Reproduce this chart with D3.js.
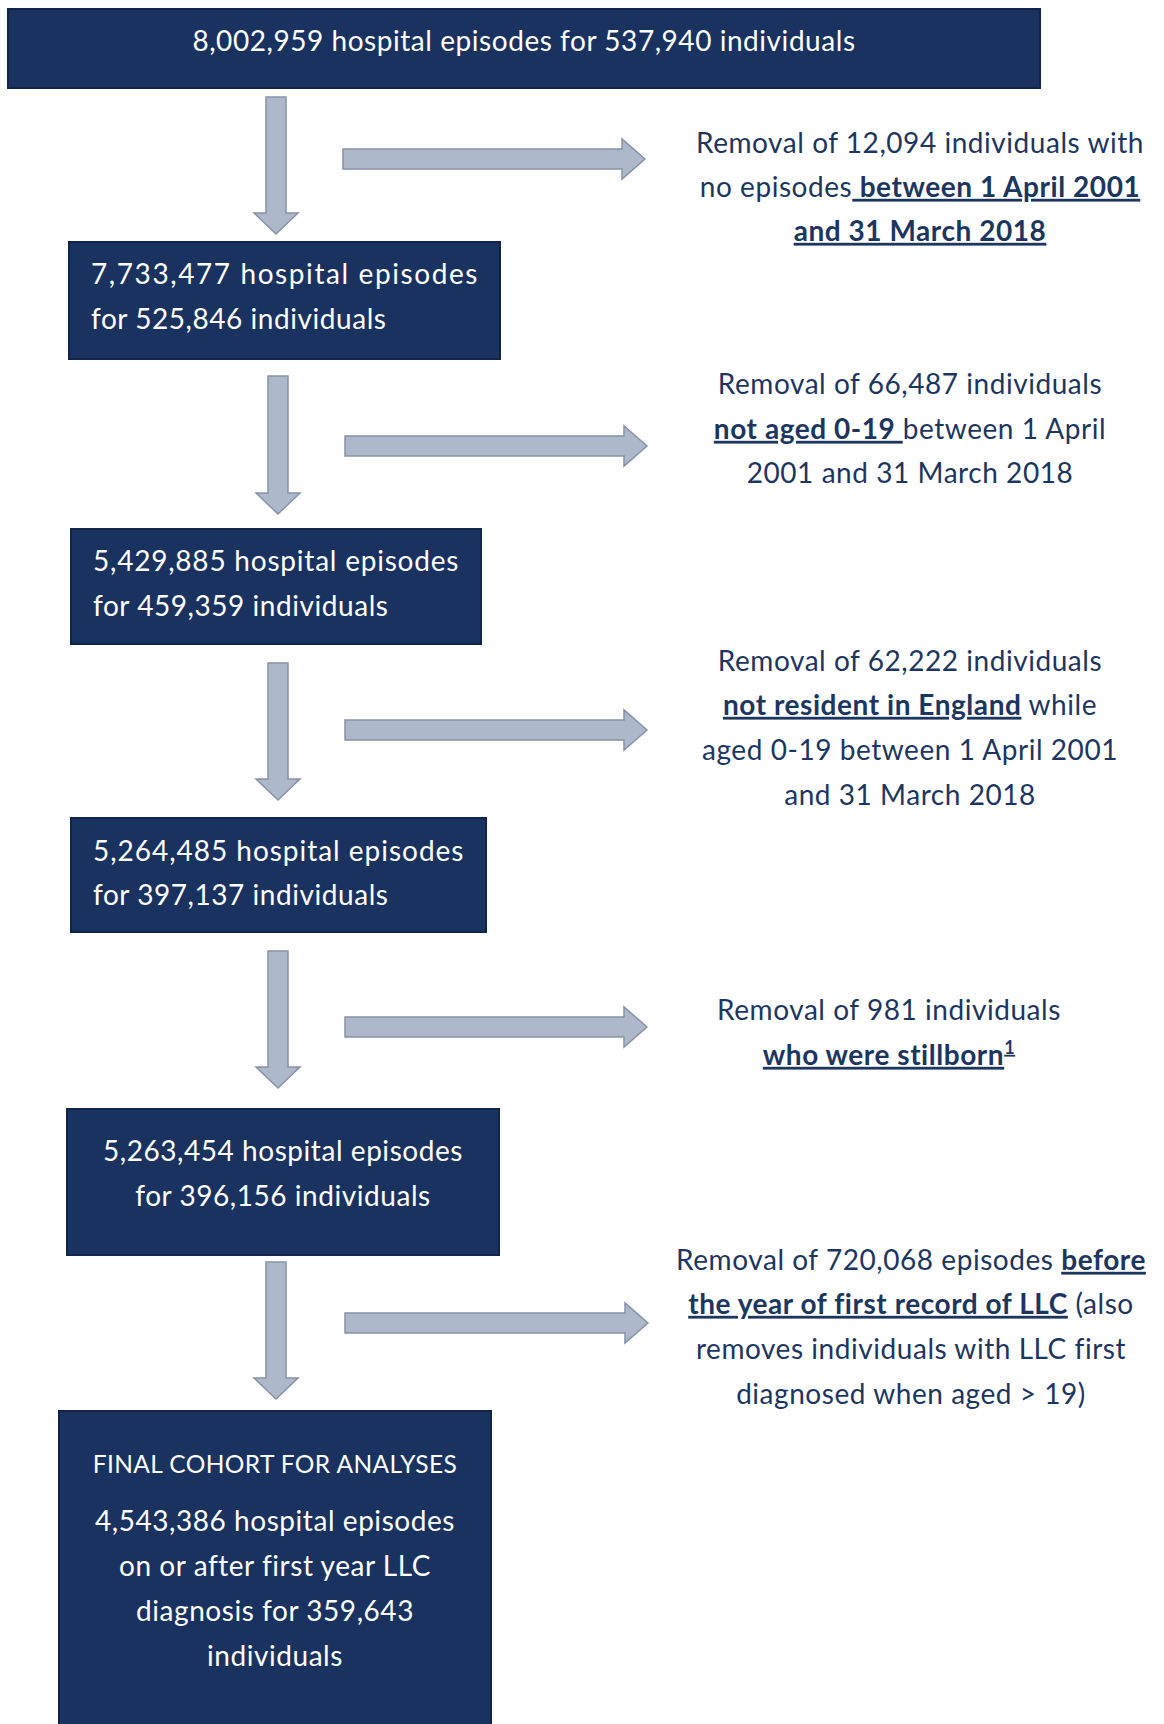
<!DOCTYPE html>
<html>
<head>
<meta charset="utf-8">
<script src="https://cdn.jsdelivr.net/npm/d3@7"></script>
<style>
    body { margin: 0; background: #fff; }
    svg text { font-family: Lato, "Open Sans", sans-serif; }
</style>
</head>
<body>
<svg id="flow"></svg>
<script>
const WIDTH = 1164;
const HEIGHT = 1724;

// Counts at each stage of the cohort
const stageEpisodes = ['8,002,959', '7,733,477', '5,429,885', '5,264,485', '5,263,454', '4,543,386'];
const stageIndividuals = ['537,940', '525,846', '459,359', '397,137', '396,156', '359,643'];
const finalTitle = 'FINAL COHORT FOR ANALYSES';

// Text of the boxes, built from the counts
const boxLines = [
    [`${stageEpisodes[0]} hospital episodes for ${stageIndividuals[0]} individuals`],
    [`${stageEpisodes[1]}  hospital  episodes`, `for ${stageIndividuals[1]} individuals`],
    [`${stageEpisodes[2]} hospital episodes`, `for ${stageIndividuals[2]} individuals`],
    [`${stageEpisodes[3]} hospital episodes`, `for ${stageIndividuals[3]} individuals`],
    [`${stageEpisodes[4]} hospital episodes`, `for ${stageIndividuals[4]} individuals`],
    [`${stageEpisodes[5]} hospital episodes`, 'on or after first year LLC',
        `diagnosis for ${stageIndividuals[5]}`, 'individuals'],
];

// Removal notes: each line is a list of [text, bold?, sup?] pieces
const removalLines = [
    [[['Removal of 12,094 individuals with']],
     [['no episodes'], [' between 1 April 2001', true]],
     [['and 31 March 2018', true]]],
    [[['Removal of 66,487 individuals']],
     [['not aged 0-19 ', true], ['between 1 April']],
     [['2001 and 31 March 2018']]],
    [[['Removal of 62,222 individuals']],
     [['not resident in England', true], [' while']],
     [['aged 0-19 between 1 April 2001']],
     [['and 31 March 2018']]],
    [[['Removal of 981 individuals']],
     [['who were stillborn', true], ['1', true, true]]],
    [[['Removal of 720,068 episodes '], ['before', true]],
     [['the year of first record of LLC', true], [' (also']],
     [['removes individuals with LLC first']],
     [['diagnosed when aged > 19)']]],
];

// Layout (pixels)
const boxLayout = [
    {x: 8, y: 9, w: 1032, h: 79, align: 'middle', tx: 524, ly: [41]},
    {x: 69, y: 242, w: 431, h: 117, align: 'start', tx: 91, ly: [274, 319], just: 387},
    {x: 71, y: 529, w: 410, h: 115, align: 'start', tx: 93, ly: [561, 606], just: 366},
    {x: 71, y: 818, w: 415, h: 114, align: 'start', tx: 93, ly: [851, 895], just: 371},
    {x: 67, y: 1109, w: 432, h: 146, align: 'middle', tx: 283, ly: [1151, 1196]},
    {x: 59, y: 1411, w: 432, h: 330, align: 'middle', tx: 275, ly: [1521, 1566, 1611, 1656], title: 1464},
];
const downArrows = [
    {cx: 276, y0: 97, y1: 234},
    {cx: 278, y0: 376, y1: 514},
    {cx: 278, y0: 663, y1: 800},
    {cx: 278, y0: 951, y1: 1088},
    {cx: 276, y0: 1262, y1: 1399},
];
const rightArrows = [
    {cy: 159, x0: 343, x1: 645},
    {cy: 446, x0: 345, x1: 647},
    {cy: 730, x0: 345, x1: 647},
    {cy: 1027, x0: 345, x1: 647},
    {cy: 1323, x0: 345, x1: 648},
];
const noteLayout = [
    {cx: 920, ly: [143, 187, 231]},
    {cx: 910, ly: [384, 429, 473]},
    {cx: 910, ly: [661, 705, 750, 795]},
    {cx: 889, ly: [1010, 1055]},
    {cx: 911, ly: [1260, 1304, 1349, 1394]},
];

const BOX_FILL = '#1a3260';
const BOX_STROKE = '#10244a';
const ARROW_FILL = '#adb9ca';
const ARROW_STROKE = '#8593a8';
const NOTE_COLOR = '#1c365f';
const FONT_SIZE = 28;
const SPACING = 0.55;

const svg = d3.select('#flow')
    .attr('width', WIDTH)
    .attr('height', HEIGHT);

const line = d3.line();

// Arrow outlines: shaft half-width, head half-width, head length
function downArrow(a) {
    const s = 10, h = 22, hl = 21;
    return line([
        [a.cx - s, a.y0], [a.cx + s, a.y0], [a.cx + s, a.y1 - hl], [a.cx + h, a.y1 - hl],
        [a.cx, a.y1], [a.cx - h, a.y1 - hl], [a.cx - s, a.y1 - hl],
    ]) + 'Z';
}
function rightArrow(a) {
    const s = 10, h = 20, hl = 23;
    return line([
        [a.x0, a.cy - s], [a.x1 - hl, a.cy - s], [a.x1 - hl, a.cy - h], [a.x1, a.cy],
        [a.x1 - hl, a.cy + h], [a.x1 - hl, a.cy + s], [a.x0, a.cy + s],
    ]) + 'Z';
}

svg.selectAll('.down-arrow')
    .data(downArrows)
    .enter().append('path')
    .attr('class', 'down-arrow')
    .attr('d', downArrow)
    .attr('fill', ARROW_FILL)
    .attr('stroke', ARROW_STROKE)
    .attr('stroke-width', 1.5);

svg.selectAll('.right-arrow')
    .data(rightArrows)
    .enter().append('path')
    .attr('class', 'right-arrow')
    .attr('d', rightArrow)
    .attr('fill', ARROW_FILL)
    .attr('stroke', ARROW_STROKE)
    .attr('stroke-width', 1.5);

// Boxes
const box = svg.selectAll('.box')
    .data(boxLayout)
    .enter().append('g')
    .attr('class', 'box');

box.append('rect')
    .attr('x', d => d.x)
    .attr('y', d => d.y)
    .attr('width', d => d.w)
    .attr('height', d => d.h)
    .attr('fill', BOX_FILL)
    .attr('stroke', BOX_STROKE)
    .attr('stroke-width', 2);

box.each(function(d, i) {
    let g = d3.select(this);
    if (d.title) {
        g.append('text')
            .attr('x', d.tx)
            .attr('y', d.title)
            .attr('dy', '0.35em')
            .attr('text-anchor', 'middle')
            .attr('fill', '#fff')
            .style('font-size', '24.5px')
            .style('letter-spacing', '0.4px')
            .text(finalTitle);
    }
    boxLines[i].forEach((t, j) => {
        let txt = g.append('text')
            .attr('x', d.tx)
            .attr('y', d.ly[j])
            .attr('dy', '0.35em')
            .attr('text-anchor', d.align)
            .attr('fill', '#fff')
            .style('font-size', FONT_SIZE + 'px')
            .style('letter-spacing', SPACING + 'px')
            .text(t);
        if (d.just && j === 0) {
            txt.attr('textLength', d.just).attr('lengthAdjust', 'spacing');
        }
    });
});

// Removal notes
noteLayout.forEach((n, i) => {
    removalLines[i].forEach((pieces, j) => {
        let txt = svg.append('text')
            .attr('x', n.cx)
            .attr('y', n.ly[j])
            .attr('dy', '0.35em')
            .attr('text-anchor', 'middle')
            .attr('fill', NOTE_COLOR)
            .style('font-size', FONT_SIZE + 'px')
            .style('letter-spacing', SPACING + 'px');
        pieces.forEach(p => {
            let sp = txt.append('tspan')
                .text(p[0]);
            if (p[1]) {
                sp.style('font-weight', 'bold')
                  .style('text-decoration', 'underline');
            }
            if (p[2]) {
                sp.attr('baseline-shift', 'super')
                  .style('font-size', '18px');
            }
        });
    });
});
</script>
</body>
</html>
